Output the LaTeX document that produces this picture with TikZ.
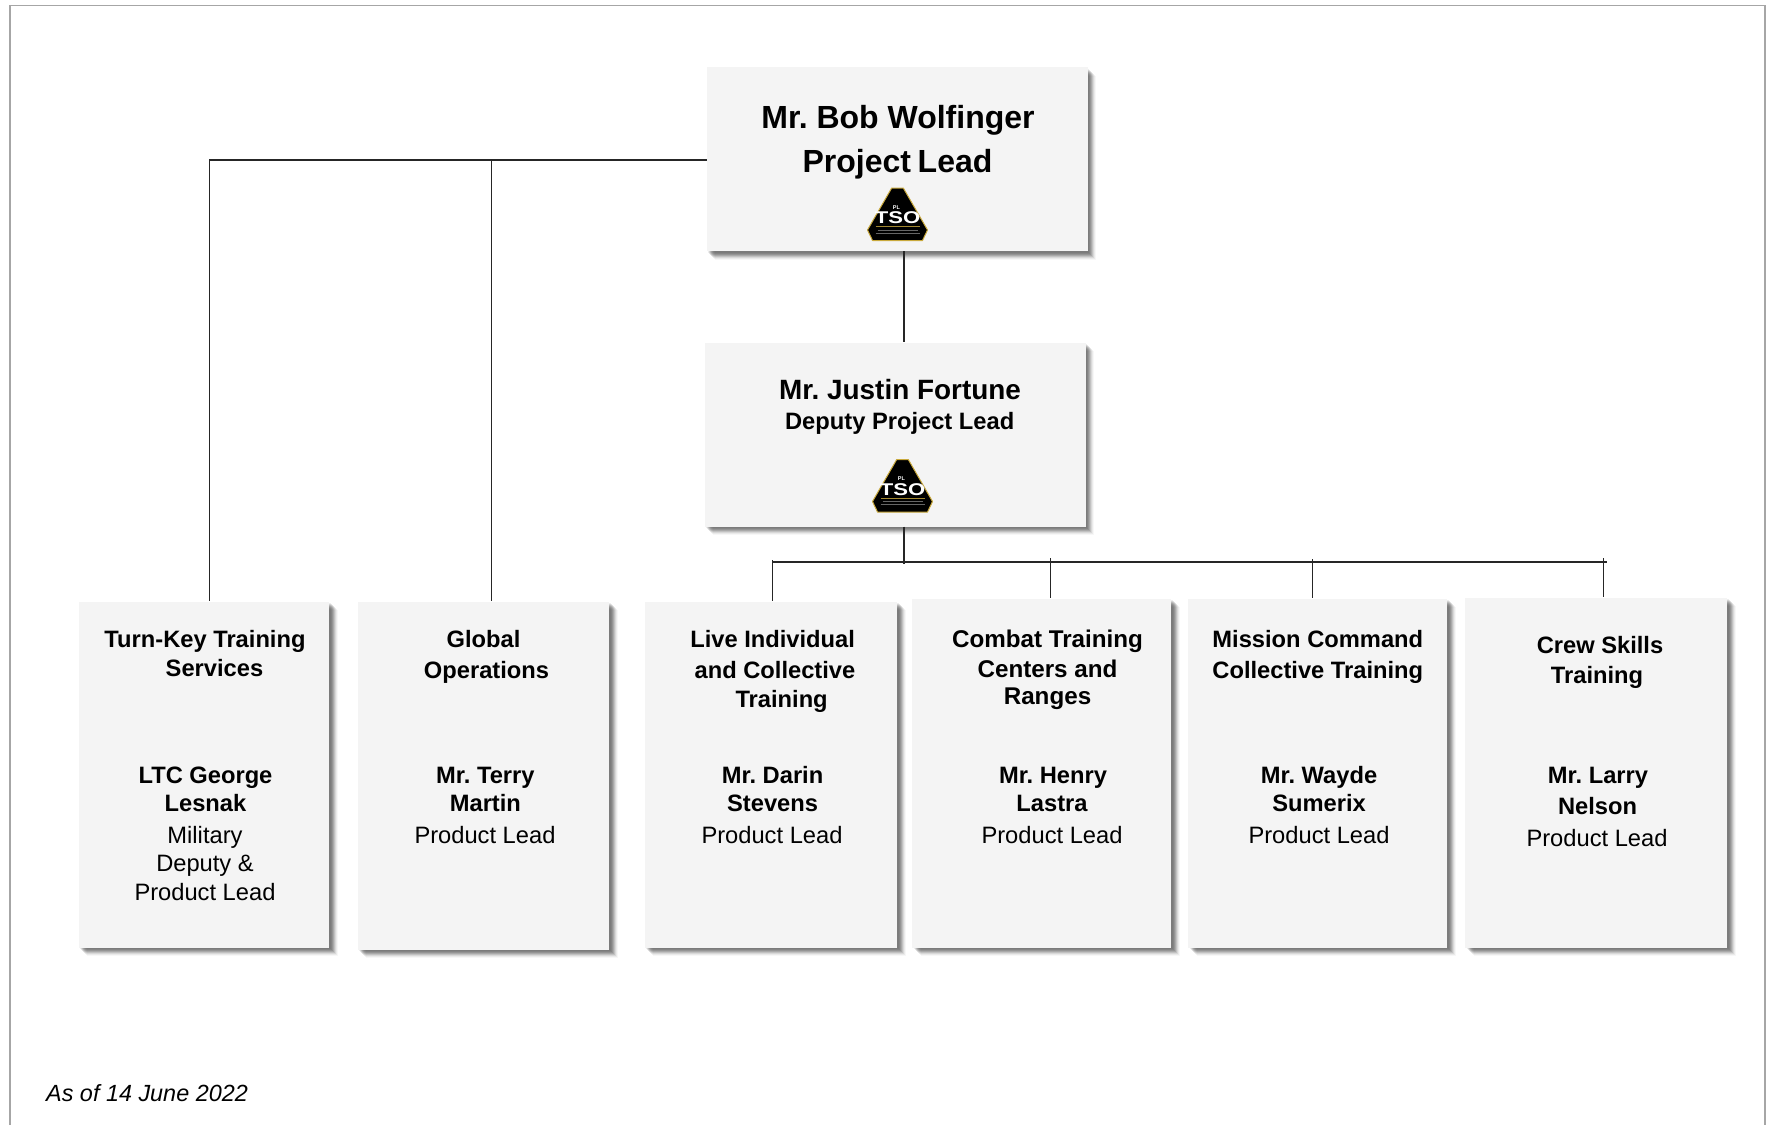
\documentclass[tikz,border=0pt]{standalone}
\usepackage{fontspec}
\setmainfont{Liberation Sans}
\usetikzlibrary{shadows}
\frenchspacing
\definecolor{boxfill}{HTML}{F4F4F4}
\definecolor{framegray}{HTML}{A6A6A6}
\definecolor{linedark}{HTML}{262626}
\definecolor{logogold}{HTML}{C9A93C}
\tikzset{
  softshadow/.style={
    general shadow={shadow xshift=1.5pt,shadow yshift=-1.5pt,fill=black,opacity=.07},
    general shadow={shadow xshift=2.5pt,shadow yshift=-2.5pt,fill=black,opacity=.10},
    general shadow={shadow xshift=3.5pt,shadow yshift=-3.5pt,fill=black,opacity=.12},
    general shadow={shadow xshift=4.5pt,shadow yshift=-4.5pt,fill=black,opacity=.12},
    general shadow={shadow xshift=5.5pt,shadow yshift=-5.5pt,fill=black,opacity=.10},
    general shadow={shadow xshift=6.5pt,shadow yshift=-6.5pt,fill=black,opacity=.08},
    general shadow={shadow xshift=7.5pt,shadow yshift=-7.5pt,fill=black,opacity=.05},
    general shadow={shadow xshift=8.5pt,shadow yshift=-8.5pt,fill=black,opacity=.03}},
  orgbox/.style={rectangle,fill=boxfill,draw=none,inner sep=0pt,softshadow},
  conn/.style={draw=linedark,line width=1.2pt},
  hugename/.style={font=\fontsize{32}{33}\selectfont\bfseries,anchor=base,inner sep=0pt},
  bigname/.style={font=\fontsize{27.9}{28}\selectfont\bfseries,anchor=base,inner sep=0pt},
  bold/.style={font=\fontsize{23.7}{24}\selectfont\bfseries,anchor=base,inner sep=0pt},
  boldwide/.style={font=\fontsize{24.2}{25}\selectfont\bfseries,anchor=base,inner sep=0pt},
  plain/.style={font=\fontsize{23.7}{24}\selectfont,anchor=base,inner sep=0pt},
  datelabel/.style={font=\fontsize{23.4}{24}\selectfont\itshape,anchor=base west,inner sep=0pt},
}
% logo: #1 name, #2 x of the axis, #3 y of the top
\newcommand{\tsologo}[3]{%
  \begin{scope}[shift={(#2,#3)}]
    \path[fill=black,draw=logogold,line width=1pt,line join=round]
      (-5.8,0) -- (5.8,0) -- (30,42) -- (25,52.5) -- (-25,52.5) -- (-30,42) -- cycle;
    \node[font=\fontsize{5.5}{6}\selectfont\bfseries,text=white,inner sep=0pt] (#1pl) at (-1,19.5) {PL};
    \node[font=\fontsize{17}{17}\selectfont\bfseries,text=white,inner sep=0pt,xscale=1.3] (#1tso) at (0,30) {TSO};
    \path[draw=logogold!80!black,line width=.7pt] (-22,38.5) -- (22,38.5);
    \path[draw=white!40!black,line width=.6pt] (-20,42) -- (20,42);
    \path[draw=white!40!black,line width=.6pt] (-22,45) -- (22,45);
  \end{scope}}
\begin{document}
\begin{tikzpicture}[x=1pt,y=-1pt]
\useasboundingbox (0,0) rectangle (1766,1125);
\path[fill=white] (0,0) rectangle (1766,1125);
\draw[framegray,line width=1.5pt] (10,1125) -- (10,5.5) -- (1765,5.5) -- (1765,1125);

% boxes
\node[orgbox,minimum width=381pt,minimum height=184pt] (lead) at (897.3,159) {};
\node[orgbox,minimum width=381pt,minimum height=184pt] (deputy) at (895.3,434.5) {};
\node[orgbox,minimum width=250.5pt,minimum height=346pt] (turnkey) at (203.8,774.5) {};
\node[orgbox,minimum width=251.5pt,minimum height=348pt] (global) at (483.3,775.5) {};
\node[orgbox,minimum width=252.5pt,minimum height=346pt] (live) at (770.8,774.5) {};
\node[orgbox,minimum width=259pt,minimum height=349pt] (combat) at (1041.7,773) {};
\node[orgbox,minimum width=259pt,minimum height=349pt] (mission) at (1317.7,773) {};
\node[orgbox,minimum width=262pt,minimum height=350pt] (crew) at (1596.3,772.5) {};

% free junctions
\coordinate (tkcorner) at (209.8,160);
\coordinate (gojoin) at (491.3,160);
\coordinate (trunk) at (904,562);
\coordinate (busleft) at (773,562);
\coordinate (busright) at (1607,562);
\coordinate (livetop) at (772.8,560);
\coordinate (combattop) at (1050.7,558);
\coordinate (missiontop) at (1312.7,559);
\coordinate (crewtop) at (1603.7,558);

% connectors
\draw[conn] (lead.west |- tkcorner) -- (tkcorner) -- (tkcorner |- turnkey.north);
\draw[conn] (gojoin) -- (gojoin |- global.north);
\draw[conn] (trunk |- lead.south) -- (trunk |- deputy.north);
\draw[conn] (trunk |- deputy.south) -- ([yshift=-2pt]trunk);
\draw[conn] (busleft) -- (busright);
\draw[conn] (livetop) -- (livetop |- live.north);
\draw[conn] (combattop) -- (combattop |- combat.north);
\draw[conn] (missiontop) -- (missiontop |- mission.north);
\draw[conn] (crewtop) -- (crewtop |- crew.north);

% logos
\tsologo{logoa}{897.5}{188}
\tsologo{logob}{902.5}{459.5}

% top boxes
\node[hugename] (leadname) at (898,128.3) {Mr. Bob Wolfinger};
\node[hugename] (leadrole) at (897.5,172) {Project\hspace{-.07em} Lead};
\node[bigname] (depname) at (900,399) {Mr. Justin Fortune};
\node[bold] (deprole) at (899.7,429) {Deputy Project Lead};

% Turn-Key
\node[bold] (tk1) at (205,647) {Turn-Key Training};
\node[bold] (tk2) at (214.5,676) {Services};
\node[bold] (tk3) at (205.5,783.2) {LTC George};
\node[bold] (tk4) at (205.5,811.2) {Lesnak};
\node[plain] (tk5) at (205,843.2) {Military};
\node[plain] (tk6) at (205,871.7) {Deputy \&};
\node[plain] (tk7) at (205,900) {Product Lead};

% Global
\node[bold] (go1) at (483.5,647.4) {Global};
\node[bold] (go2) at (486.5,678.3) {Operations};
\node[bold] (go3) at (485.4,783.2) {Mr. Terry};
\node[bold] (go4) at (485.4,811.2) {Martin};
\node[plain] (go5) at (485,843.2) {Product Lead};

% Live
\node[bold] (li1) at (772.6,647) {Live Individual};
\node[bold] (li2) at (775,678.3) {and Collective};
\node[bold] (li3) at (781.6,707) {Training};
\node[bold] (li4) at (772.6,783.2) {Mr. Darin};
\node[bold] (li5) at (772.6,811.2) {Stevens};
\node[plain] (li6) at (772,843.2) {Product Lead};

% Combat
\node[boldwide] (co1) at (1047.5,647) {Combat Training};
\node[boldwide] (co2) at (1047.5,677.6) {Centers and};
\node[boldwide] (co3) at (1047.5,704.5) {Ranges};
\node[bold] (co4) at (1053,783.2) {Mr. Henry};
\node[bold] (co5) at (1052,811.2) {Lastra};
\node[plain] (co6) at (1052,843.2) {Product Lead};

% Mission
\node[bold] (mi1) at (1317.8,647) {Mission Command};
\node[bold] (mi2) at (1317.8,678) {Collective Training};
\node[bold] (mi3) at (1319,783) {Mr. Wayde};
\node[bold] (mi4) at (1319,811) {Sumerix};
\node[plain] (mi5) at (1319,843.2) {Product Lead};

% Crew
\node[bold] (cr1) at (1600,653.5) {Crew Skills};
\node[bold] (cr2) at (1597,683.2) {Training};
\node[bold] (cr3) at (1598,783) {Mr. Larry};
\node[bold] (cr4) at (1597.5,814) {Nelson};
\node[plain] (cr5) at (1597,846.2) {Product Lead};

\node[datelabel] (asof) at (46,1101.7) {As of 14 June 2022};
\end{tikzpicture}
\end{document}
